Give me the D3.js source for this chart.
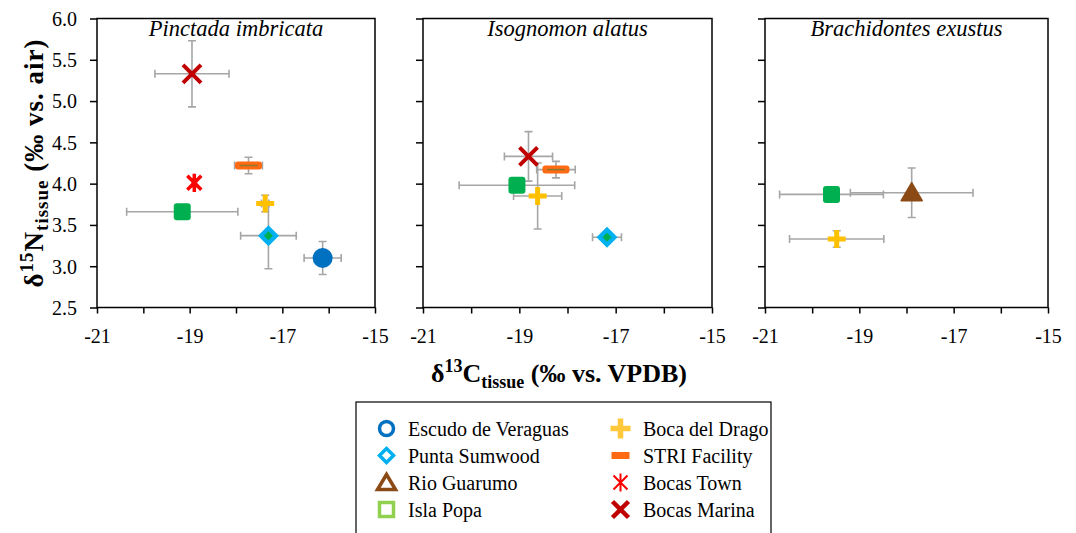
<!DOCTYPE html>
<html><head><meta charset="utf-8">
<script src="https://cdn.jsdelivr.net/npm/d3@7"></script>
<style>body{margin:0;background:#fff}svg{display:block}</style>
</head><body>
<svg id="c" width="1076" height="533"></svg>
<script>
// ---------- data ----------
const species = ["Pinctada imbricata", "Isognomon alatus", "Brachidontes exustus"];
const siteNames = ["Escudo de Veraguas","Punta Sumwood","Rio Guarumo","Isla Popa","Boca del Drago","STRI Facility","Bocas Town","Bocas Marina"];
const xTicks = [-21, -20, -19, -18, -17, -16, -15];
const xTickLabels = [-21, -19, -17, -15];
const yTicks = [2.5, 3.0, 3.5, 4.0, 4.5, 5.0, 5.5, 6.0];

// Pinctada imbricata (site index, d13C, d15N, sd C, sd N)
const pinctadaSite = [3, 0, 1, 4, 5, 6, 7];
const pinctadaC    = [-19.16, -16.13, -17.30, -17.37, -17.73, -18.90, -18.95];
const pinctadaN    = [3.66, 3.10, 3.37, 3.76, 4.22, 4.01, 5.33];
const pinctadaCsd  = [1.20, 0.40, 0.60, 0.08, 0.30, 0.05, 0.80];
const pinctadaNsd  = [0.05, 0.20, 0.40, 0.10, 0.10, 0.05, 0.40];

// Isognomon alatus
const isognomonSite = [3, 1, 4, 5, 7];
const isognomonC    = [-19.05, -17.18, -18.62, -18.24, -18.81];
const isognomonN    = [3.98, 3.35, 3.85, 4.17, 4.33];
const isognomonCsd  = [1.20, 0.30, 0.50, 0.40, 0.50];
const isognomonNsd  = [0.05, 0.07, 0.40, 0.10, 0.30];

// Brachidontes exustus
const brachSite = [3, 2, 4];
const brachC    = [-19.59, -17.89, -19.48];
const brachN    = [3.87, 3.89, 3.33];
const brachCsd  = [1.10, 1.30, 1.00];
const brachNsd  = [0.05, 0.30, 0.10];

const panelsData = [
  {site: pinctadaSite, c: pinctadaC, n: pinctadaN, cs: pinctadaCsd, ns: pinctadaNsd},
  {site: isognomonSite, c: isognomonC, n: isognomonN, cs: isognomonCsd, ns: isognomonNsd},
  {site: brachSite, c: brachC, n: brachN, cs: brachCsd, ns: brachNsd}
];

// ---------- layout ----------
const svg = d3.select("#c");
const FONT = "'Liberation Serif','Times New Roman',serif";
const panelX = [[97, 375], [423, 712], [765, 1048]];
const plotTop = 18.5, plotBottom = 307.5;
const y = d3.scaleLinear().domain([2.5, 6.0]).range([plotBottom, plotTop]);
const errColor = "#A6A6A6";

function marker(g, s, legend) {
  const m = g.append("g");
  if (s === 0) {
    if (legend) m.append("circle").attr("r", 7).attr("fill", "#fff").attr("stroke", "#0070C0").attr("stroke-width", 3.5);
    else m.append("circle").attr("r", 10).attr("fill", "#0070C0");
  } else if (s === 1) {
    const d = 10.5;
    if (legend) m.append("path").attr("d", `M0,-7L7,0L0,7L-7,0Z`).attr("fill", "#fff").attr("stroke", "#00B0F0").attr("stroke-width", 3.5);
    else {
      m.append("path").attr("d", `M0,${-d}L${d},0L0,${d}L${-d},0Z`).attr("fill", "#00B0F0");
      m.append("path").attr("d", "M0,-4.5L4.5,0L0,4.5L-4.5,0Z").attr("fill", "#00B050");
    }
  } else if (s === 2) {
    if (legend) m.append("path").attr("d", "M0,-8L9,7L-9,7Z").attr("fill", "#fff").attr("stroke", "#8B4A14").attr("stroke-width", 3.5).attr("stroke-linejoin", "miter");
    else m.append("path").attr("d", "M0,-10L10.5,8L-10.5,8Z").attr("fill", "#8B4A14").attr("stroke", "#8B4A14").attr("stroke-width", 1.5).attr("stroke-linejoin", "round");
  } else if (s === 3) {
    if (legend) m.append("rect").attr("x", -7).attr("y", -7).attr("width", 14).attr("height", 14).attr("fill", "#fff").attr("stroke", "#92D050").attr("stroke-width", 3.5);
    else m.append("rect").attr("x", -8.5).attr("y", -8.5).attr("width", 17).attr("height", 17).attr("rx", 3).attr("fill", "#00B050");
  } else if (s === 4) {
    const a = legend ? 10 : 9;
    m.append("path").attr("d", `M${-a},0H${a}M0,${-a}V${a}`).attr("stroke", legend ? "#FFC83D" : "#FFC000").attr("stroke-width", legend ? 5.5 : 5);
  } else if (s === 5) {
    if (legend) m.append("rect").attr("x", -9).attr("y", -3.5).attr("width", 18).attr("height", 7).attr("fill", "#FF6A13");
    else {
      m.append("rect").attr("x", -13.5).attr("y", -4).attr("width", 27).attr("height", 8).attr("rx", 3).attr("fill", "#FF6A13");
      m.append("path").attr("d", "M-9,0H9").attr("stroke", "#8A7A30").attr("stroke-width", 1.5);
    }
  } else if (s === 6) {
    const a = 7;
    m.append("path").attr("d", `M${-a},${-a}L${a},${a}M${-a},${a}L${a},${-a}M0,${-a * 1.3}V${a * 1.3}`)
      .attr("stroke", "#FF0000").attr("stroke-width", legend ? 2 : 3.5);
  } else if (s === 7) {
    const a = legend ? 8 : 9;
    m.append("path").attr("d", `M${-a},${-a}L${a},${a}M${-a},${a}L${a},${-a}`)
      .attr("stroke", "#C00000").attr("stroke-width", legend ? 4.5 : 4);
  }
  return m;
}

panelsData.forEach((pd, pi) => {
  const x = d3.scaleLinear().domain([-21, -15]).range(panelX[pi]);
  const g = svg.append("g");

  g.append("rect").attr("x", panelX[pi][0]).attr("y", plotTop)
    .attr("width", panelX[pi][1] - panelX[pi][0]).attr("height", plotBottom - plotTop)
    .attr("fill", "none").attr("stroke", "#000").attr("stroke-width", 1.5);

  const xa = g.append("g").attr("transform", `translate(0,${plotBottom})`)
    .call(d3.axisBottom(x).tickValues(xTicks).tickSize(6).tickFormat(d => xTickLabels.includes(d) ? String(d) : ""));
  xa.select(".domain").remove();
  xa.selectAll("line").attr("stroke", "#000").attr("stroke-width", 1.5);
  xa.selectAll("text").style("font-family", FONT).style("font-size", "20px").attr("fill", "#000").attr("dy", 0).attr("y", 35.5);

  const ya = g.append("g").attr("transform", `translate(${panelX[pi][0]},0)`)
    .call(d3.axisLeft(y).tickValues(yTicks).tickSize(7).tickFormat(pi === 0 ? d3.format(".1f") : () => ""));
  ya.select(".domain").remove();
  ya.selectAll("line").attr("stroke", "#000").attr("stroke-width", 1.5);
  ya.selectAll("text").style("font-family", FONT).style("font-size", "20px").attr("fill", "#000").attr("x", -20).attr("dy", "0.34em");

  g.append("text").attr("x", (panelX[pi][0] + panelX[pi][1]) / 2).attr("y", plotTop + 17)
    .attr("text-anchor", "middle").style("font-family", FONT).style("font-style", "italic").style("font-size", "22.5px")
    .text(species[pi]);

  const eb = g.append("g").attr("stroke", errColor).attr("stroke-width", 1.6).attr("fill", "none");
  pd.site.forEach((s, i) => {
    const cx = x(pd.c[i]), cy = y(pd.n[i]);
    const x0 = x(pd.c[i] - pd.cs[i]), x1 = x(pd.c[i] + pd.cs[i]);
    const y0 = y(pd.n[i] - pd.ns[i]), y1 = y(pd.n[i] + pd.ns[i]);
    eb.append("path").attr("d", `M${x0},${cy}H${x1}M${x0},${cy - 4}V${cy + 4}M${x1},${cy - 4}V${cy + 4}`);
    eb.append("path").attr("d", `M${cx},${y0}V${y1}M${cx - 4},${y0}H${cx + 4}M${cx - 4},${y1}H${cx + 4}`);
  });
  pd.site.forEach((s, i) => {
    marker(g, s, false).attr("transform", `translate(${x(pd.c[i])},${y(pd.n[i])})`);
  });
});

const yl = svg.append("text").attr("transform", `translate(43,${(plotTop + plotBottom) / 2}) rotate(-90)`)
  .attr("text-anchor", "middle").style("font-family", FONT).style("font-weight", "bold").style("font-size", "27px")
  .style("letter-spacing", "1px");
yl.append("tspan").text("δ");
yl.append("tspan").style("font-size", "19px").attr("dy", -10).text("15");
yl.append("tspan").attr("dy", 10).text("N");
yl.append("tspan").style("font-size", "19px").attr("dy", 5).text("tissue");
yl.append("tspan").attr("dy", -5).text(" (‰ vs. air)");

const xl = svg.append("text").attr("x", 559).attr("y", 382)
  .attr("text-anchor", "middle").style("font-family", FONT).style("font-weight", "bold").style("font-size", "26px");
xl.append("tspan").text("δ");
xl.append("tspan").style("font-size", "18px").attr("dy", -10).text("13");
xl.append("tspan").attr("dy", 10).text("C");
xl.append("tspan").style("font-size", "18px").attr("dy", 6).text("tissue");
xl.append("tspan").attr("dy", -6).text(" (‰ vs. VPDB)");

const lg = svg.append("g");
lg.append("rect").attr("x", 356).attr("y", 402).attr("width", 415).attr("height", 140)
  .attr("fill", "#fff").attr("stroke", "#000").attr("stroke-width", 1.2);
const legOrder = [[0, 1, 2, 3], [4, 5, 6, 7]];
const colMX = [386.5, 620.5], colTX = [408, 643];
const rowY = [428.5, 455.5, 482.5, 509.5];
legOrder.forEach((col, ci) => col.forEach((s, ri) => {
  marker(lg, s, true).attr("transform", `translate(${colMX[ci]},${rowY[ri]})`);
  lg.append("text").attr("x", colTX[ci]).attr("y", rowY[ri]).attr("dy", "0.35em")
    .style("font-family", FONT).style("font-size", "20px").attr("fill", "#000").text(siteNames[s]);
}));
</script>
</body></html>
